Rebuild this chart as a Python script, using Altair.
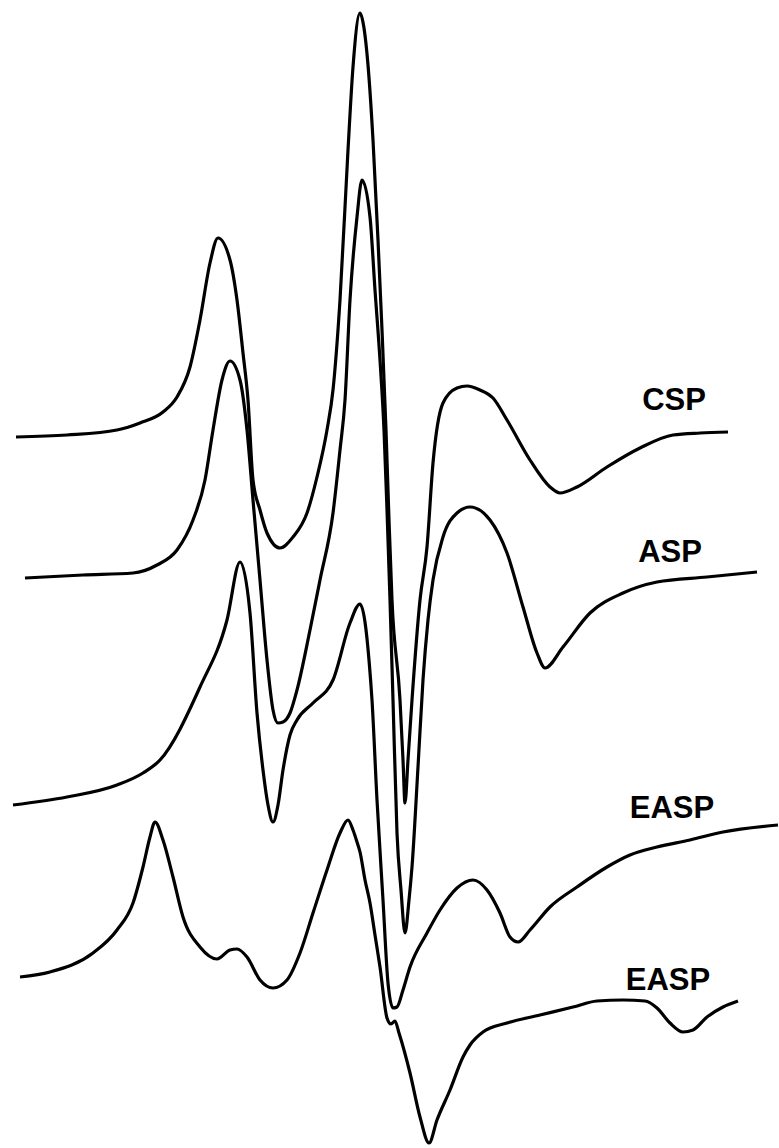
import altair as alt
import pandas as pd

# Spectrum traces (field position, signal position; y grows downward)
csp_x = [16, 67, 117, 140, 163, 177, 190, 200, 210, 218, 230, 237, 243, 248, 253, 260, 267, 280, 293, 307,
         317, 327, 333, 340, 348, 353, 360, 364, 368, 373, 378, 382, 386, 389, 392, 400, 403, 405, 408, 412,
         420, 427, 433, 443, 457, 467, 480, 493, 507, 530, 550, 560, 577, 607, 640, 673, 700, 728]
csp_y = [437, 435, 430, 423, 412, 397, 367, 320, 263, 238, 260, 300, 353, 400, 480, 510, 533, 548, 537, 513,
         477, 430, 390, 300, 150, 67, 13, 28, 65, 140, 240, 330, 430, 520, 600, 700, 760, 803, 760, 700,
         600, 547, 463, 403, 388, 386, 390, 398, 420, 460, 487, 493, 487, 467, 448, 435, 433, 432]

asp_x = [25, 83, 133, 157, 177, 193, 205, 213, 222, 230, 240, 247, 253, 260, 267, 273, 278, 283, 290, 297,
         310, 320, 333, 340, 345, 350, 357, 362, 370, 375, 380, 384, 387, 390, 393, 397, 401, 405, 409, 412,
         418, 423, 428, 433, 443, 457, 470, 490, 507, 523, 537, 545, 563, 590, 623, 657, 707, 757]
asp_y = [578, 575, 573, 565, 550, 520, 480, 430, 380, 361, 380, 430, 500, 580, 660, 710, 723, 722, 713, 690,
         630, 580, 513, 450, 400, 300, 217, 180, 217, 290, 360, 430, 510, 600, 700, 833, 890, 933, 900, 867,
         767, 680, 620, 580, 537, 513, 507, 520, 553, 607, 653, 668, 647, 613, 593, 582, 577, 572]

easp1_x = [13, 67, 117, 143, 160, 200, 227, 240, 250, 257, 263, 268, 273, 278, 283, 290, 297, 313, 333, 350,
           360, 365, 369, 372, 377, 383, 388, 393, 397, 403, 410, 427, 440, 457, 473, 487, 500, 510, 518, 530,
           550, 577, 607, 630, 657, 690, 723, 778]
easp1_y = [805, 797, 785, 773, 760, 687, 620, 562, 613, 713, 770, 805, 822, 805, 770, 735, 720, 703, 680, 623,
           604, 622, 660, 700, 800, 900, 983, 1008, 1007, 990, 967, 933, 910, 888, 880, 890, 913, 937, 942, 930,
           907, 887, 867, 855, 847, 840, 832, 825]

easp2_x = [20, 50, 93, 117, 133, 143, 150, 155, 163, 173, 183, 200, 217, 230, 237, 247, 260, 273, 287, 300,
           313, 327, 340, 348, 353, 357, 360, 365, 370, 375, 380, 387, 391, 395, 399, 410, 420, 429, 437, 450,
           463, 470, 483, 507, 540, 573, 597, 623, 645, 657, 670, 683, 693, 707, 723, 738]
easp2_y = [977, 972, 953, 930, 903, 867, 837, 822, 840, 877, 917, 947, 959, 950, 949, 957, 980, 988, 980, 953,
           913, 870, 833, 820, 830, 842, 852, 880, 903, 935, 967, 1018, 1024, 1021, 1033, 1073, 1117, 1143, 1120, 1090,
           1057, 1045, 1032, 1023, 1015, 1007, 1001, 1000, 1001, 1008, 1023, 1032, 1030, 1017, 1007, 1001]

series_names = ["CSP", "ASP", "EASP (1)", "EASP (2)"]
label_text = ["CSP", "ASP", "EASP", "EASP"]
label_x = [674, 670, 672, 668]
label_y = [410, 562, 818, 990]

rows = []
for name, xs, ys in zip(series_names,
                        [csp_x, asp_x, easp1_x, easp2_x],
                        [csp_y, asp_y, easp1_y, easp2_y]):
    for i, (a, b) in enumerate(zip(xs, ys)):
        rows.append({"series": name, "field": a, "signal": b, "order": i})
df = pd.DataFrame(rows)
labels = pd.DataFrame({"text": label_text, "field": label_x, "signal": label_y})

xs = alt.Scale(domain=[0, 779], nice=False, zero=False)
ys = alt.Scale(domain=[0, 1148], nice=False, zero=False, reverse=True)

lines = alt.Chart(df).mark_line(color="black", strokeWidth=3.2, interpolate="monotone").encode(
    x=alt.X("field:Q", scale=xs, axis=None),
    y=alt.Y("signal:Q", scale=ys, axis=None),
    detail="series:N",
    order="order:Q",
)

text = alt.Chart(labels).mark_text(
    font="Liberation Sans", fontSize=31, fontWeight="bold", color="black",
    align="center", baseline="alphabetic"
).encode(
    x=alt.X("field:Q", scale=xs, axis=None),
    y=alt.Y("signal:Q", scale=ys, axis=None),
    text="text:N",
)

chart = alt.layer(lines, text).properties(
    width=779, height=1148, autosize=alt.AutoSizeParams(type="none"), padding=0,
    background="white"
).configure_view(stroke=None)

chart.save("out.html", embed_options={"renderer": "svg", "actions": False})
